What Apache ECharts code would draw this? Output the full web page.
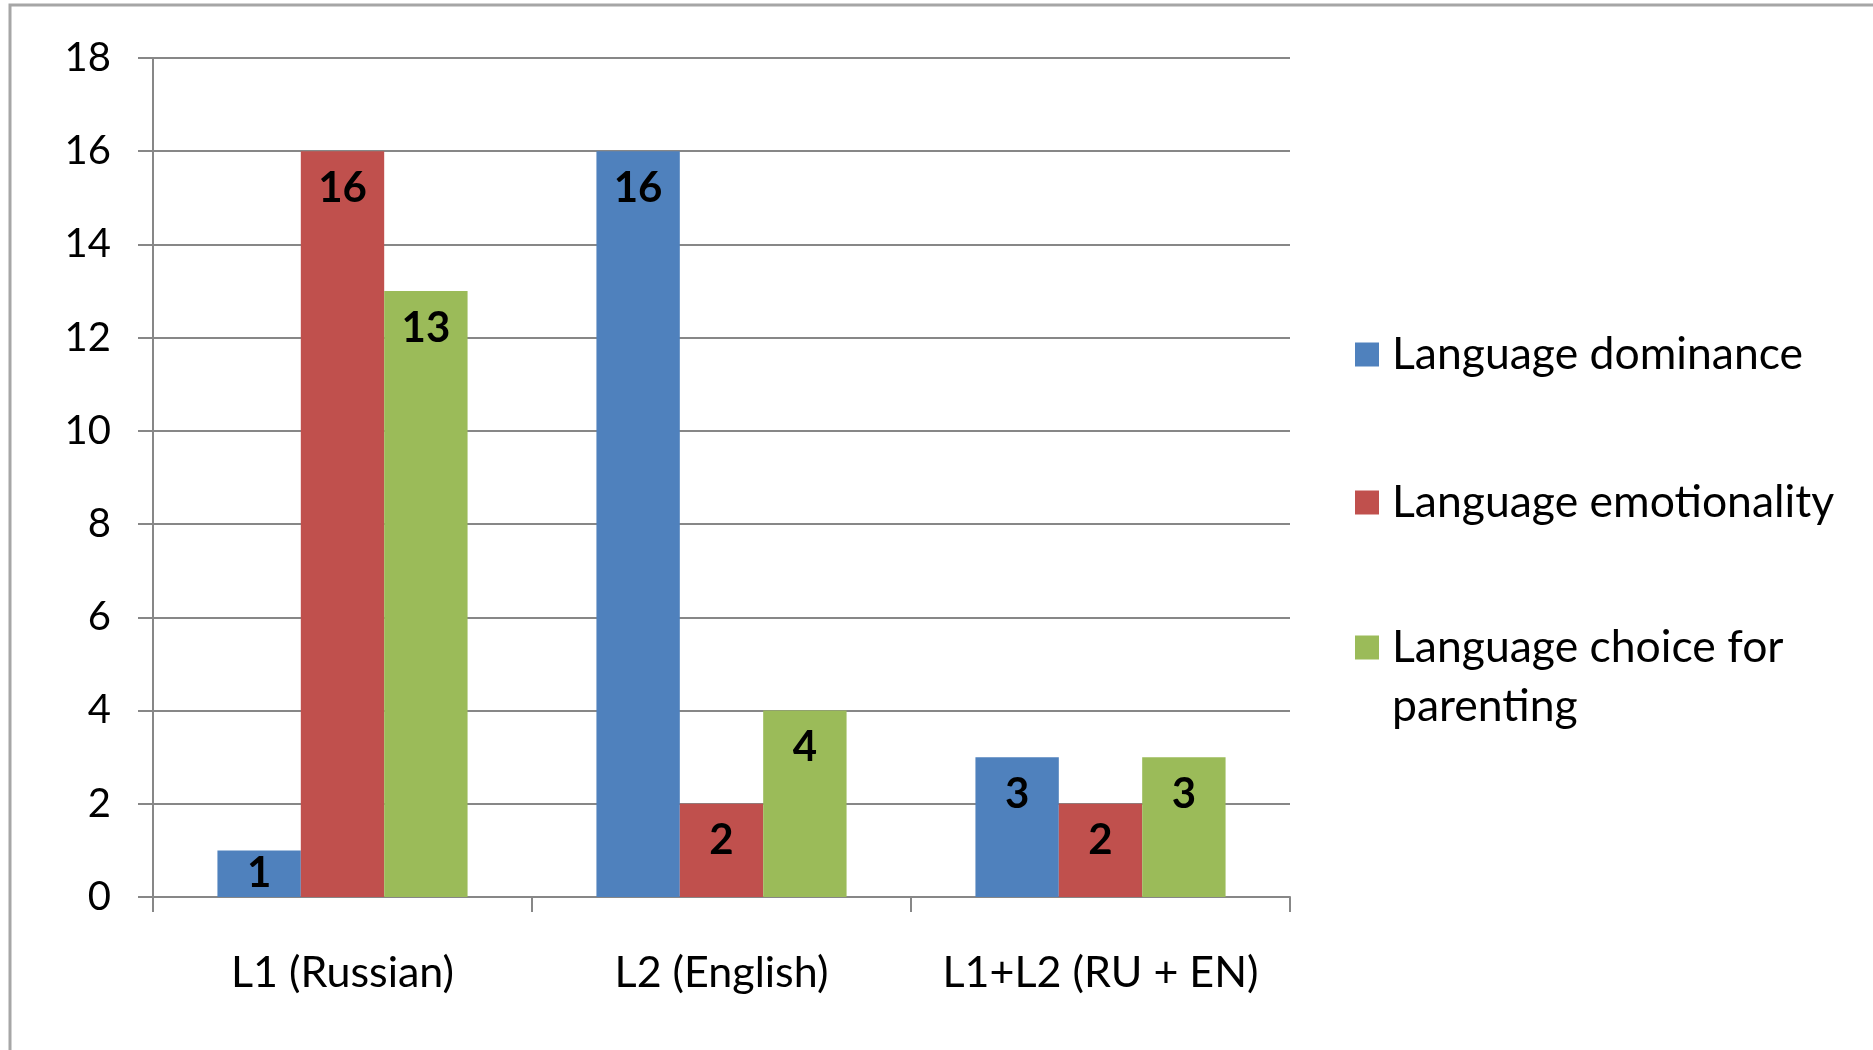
<!DOCTYPE html>
<html>
<head>
<meta charset="utf-8">
<script src="https://cdn.jsdelivr.net/npm/echarts@6/dist/echarts.min.js"></script>
<style>
  html, body { margin: 0; padding: 0; background: #fff; }
  #chart { width: 1873px; height: 1050px; }
</style>
</head>
<body>
<div id="chart"></div>
<script>
// categories and series
const categories = ['L1 (Russian)', 'L2 (English)', 'L1+L2 (RU + EN)']
const dominance = [1, 16, 3]
const emotionality = [16, 2, 2]
const parenting = [13, 4, 3]
const yTicks = [0, 2, 4, 6, 8, 10, 12, 14, 16, 18]

const FONT = 'Lato'
const AXIS_GRAY = '#878787'

// small bars get the label centred, like Excel does
function toData(arr) {
  return arr.map(v => v < 1.5 ? { value: v, label: { position: 'inside' } } : v)
}

function barSeries(name, values, color) {
  return {
    name,
    type: 'bar',
    data: toData(values),
    barGap: 0,
    barCategoryGap: '34%',
    itemStyle: { color },
    label: {
      show: true,
      position: 'insideTop',
      distance: 16,
      color: '#000',
      fontFamily: FONT,
      fontWeight: 'bold',
      fontSize: 42
    }
  }
}

const legendText = { fontFamily: FONT, fontSize: 44.5, lineHeight: 59, color: '#000', padding: [0, 0, 0, 8] }

const chart = echarts.init(document.getElementById('chart'))

chart.setOption({
  backgroundColor: '#fff',
  animation: false,
  graphic: [{
    type: 'rect',
    shape: { x: 10, y: 5, width: 2000, height: 1200 },
    style: { fill: 'none', stroke: '#a6a6a6', lineWidth: 3 },
    silent: true
  }],
  grid: { left: 153, right: 583, top: 58, bottom: 153 },
  legend: [
    {
      data: ['Language dominance', 'Language emotionality'],
      orient: 'vertical',
      left: 1355,
      top: 325,
      padding: 0,
      itemWidth: 24,
      itemHeight: 24,
      itemGap: 89,
      icon: 'rect',
      selectedMode: false,
      textStyle: legendText
    },
    {
      // empty first line keeps the icon level with "Language choice for"
      data: ['Language choice for parenting'],
      orient: 'vertical',
      left: 1355,
      top: 647 - 88,
      padding: 0,
      itemWidth: 24,
      itemHeight: 24,
      icon: 'rect',
      selectedMode: false,
      formatter: () => ' \nLanguage choice for\nparenting',
      textStyle: legendText
    }
  ],
  xAxis: {
    type: 'category',
    data: categories,
    axisLine: { lineStyle: { color: AXIS_GRAY, width: 2 } },
    axisTick: { show: true, length: 15, lineStyle: { color: AXIS_GRAY, width: 2 } },
    axisLabel: { interval: 0, color: '#000', fontFamily: FONT, fontSize: 43, lineHeight: 50, margin: 51 }
  },
  yAxis: {
    type: 'value',
    min: yTicks[0],
    max: yTicks[yTicks.length - 1],
    interval: yTicks[1] - yTicks[0],
    axisLine: { show: true, lineStyle: { color: AXIS_GRAY, width: 2 } },
    axisTick: { show: true, length: 15, lineStyle: { color: AXIS_GRAY, width: 2 } },
    splitLine: { lineStyle: { color: AXIS_GRAY, width: 2 } },
    axisLabel: { color: '#000', fontFamily: FONT, fontSize: 40, margin: 42 }
  },
  series: [
    barSeries('Language dominance', dominance, '#4f81bd'),
    barSeries('Language emotionality', emotionality, '#c0504d'),
    barSeries('Language choice for parenting', parenting, '#9bbb59')
  ]
})
</script>
</body>
</html>
